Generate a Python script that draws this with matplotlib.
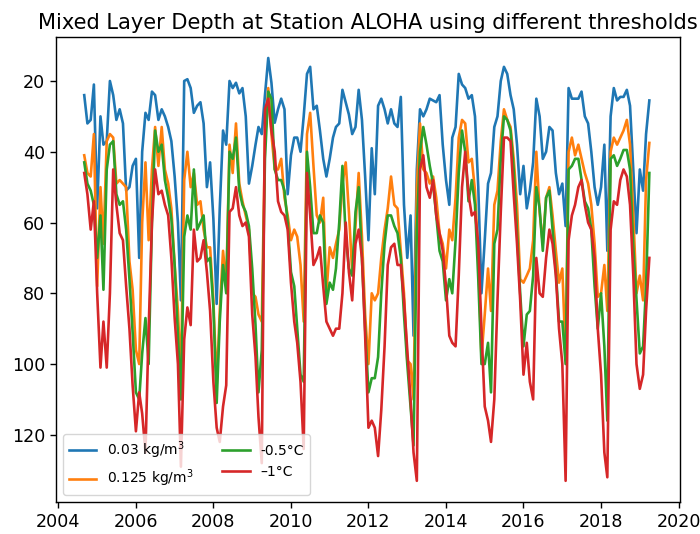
import matplotlib.pyplot as plt
import pandas as pd

# Monthly HOT cruise values, Sept 2004 - Apr 2019 (mixed layer depth, m)
dates = pd.date_range("2004-09-01", periods=176, freq="MS")

mld_dens_003 = [
    24, 32, 31, 21,
    56, 30, 38, 37, 20, 24, 31, 28, 32, 51, 50, 44,
    42, 70, 40, 29, 31, 23, 24, 31, 28, 30, 33, 37,
    47, 60, 82, 20, 19.5, 22, 29, 27, 26, 32, 50, 43,
    59, 83, 56, 34, 38, 20, 22, 20.5, 23.5, 22, 30, 49,
    44, 38, 33, 35, 24, 13.5, 20.5, 31.8, 28, 25, 28, 52,
    41, 36, 36, 40, 30, 18, 16, 28, 27, 34, 42, 47,
    42, 36, 33, 32, 22.5, 26, 29.5, 35, 33, 22.5, 31, 47,
    65, 39, 52, 27, 25, 28, 32, 28, 32, 33, 24.5, 55,
    70, 58, 92, 45, 28, 30, 28, 25, 25.5, 26, 24, 38,
    48, 55, 36, 33, 18, 21, 22, 25, 24, 30, 50, 80,
    65, 49, 46, 33, 30, 20, 16, 18, 24, 28, 38, 52,
    44, 56, 51, 43, 25, 30, 42, 40, 33, 34, 46, 52,
    49, 61, 22, 25, 25, 25, 23, 30, 32, 40, 50, 55,
    50, 38, 68, 30, 22, 25.5, 24.5, 24.5, 22.5, 27, 45, 63,
    45, 51, 35, 25.5,
]

mld_dens_0125 = [
    41, 46, 47, 35,
    78, 50, 66, 37, 35, 36, 49, 48, 49, 50, 71, 79,
    96, 100, 60, 43, 65, 45, 33, 44, 33, 45, 49, 56,
    72, 85, 104, 48, 40, 50, 46, 55, 54, 62, 67, 67,
    82, 106, 85, 68, 78, 38, 46, 32, 49, 54, 58, 62,
    80, 81, 86, 88, 37, 22, 35, 45, 45, 42, 53, 58,
    65, 62, 64, 72, 88, 35, 29, 44, 58, 60, 53, 80,
    67, 70, 66, 62, 49, 43, 57, 74, 61, 46, 64, 86,
    100, 80, 82, 80, 70, 62, 56, 47, 55, 56, 68, 80,
    99, 100, 110, 50, 32, 45, 46, 49, 47, 53, 63, 66,
    73, 62, 65, 53, 36, 31, 32, 43, 42, 51, 70, 98,
    86, 73, 85, 55, 51, 37, 28, 31, 33, 42, 55, 76,
    77, 75, 73, 65, 40, 57, 66, 53, 50, 58, 68, 77,
    73, 98, 40, 36, 41, 38, 42, 46, 49, 55, 66, 81,
    80, 72, 85, 40, 36, 38, 36, 34, 31, 38, 58, 80,
    75, 82, 48, 37.5,
]

mld_temp_05 = [
    43, 49, 51, 55,
    70, 58, 79, 45, 38, 37, 52, 55, 54, 62, 76, 91,
    108, 110, 97, 87, 100, 60, 34, 40, 38, 48, 53, 59,
    72, 92, 110, 64, 58, 62, 45, 62, 60, 58, 71, 70,
    84, 111, 88, 72, 80, 40, 42, 36, 51, 55, 57, 61,
    73, 89, 108, 96, 42, 23, 25, 45, 48, 48, 51, 60,
    74, 78, 90, 103, 105, 40, 50, 63, 63, 58, 60, 83,
    77, 79, 73, 60, 44, 64, 73, 75, 57, 50, 70, 90,
    108, 104, 104, 98, 80, 66, 58, 58, 61, 63, 70, 86,
    100, 112, 123, 62, 40, 33, 38, 44, 49, 58, 68, 71,
    82, 76, 80, 65, 46, 34, 40, 54, 48, 55, 76, 100,
    100, 94, 108, 66, 62, 42, 30, 31, 34, 45, 63, 80,
    95, 86, 85, 75, 50, 56, 68, 53, 51, 62, 74, 88,
    88, 100, 45, 44, 42, 42, 48, 54, 56, 62, 78, 90,
    80, 95, 116, 42, 41, 44, 42, 39.5, 39.5, 45, 67, 82,
    97, 95, 78, 46,
]

mld_temp_1 = [
    46, 52, 62, 54,
    80, 101, 88, 101, 80, 45, 55, 63, 65, 78, 90, 106,
    119, 108, 114, 125, 90, 60, 45, 52, 51, 55, 58, 70,
    87, 100, 129, 93, 84, 89, 62, 71, 70, 65, 74, 85,
    105, 118, 122, 112, 106, 57, 56, 50, 58, 61, 60, 64,
    86, 98, 115, 128, 28, 25, 34, 40, 54, 57, 58, 62,
    77, 88, 94, 105, 124, 46, 58, 72, 70, 67, 78, 88,
    90, 92, 90, 90, 80, 60, 74, 82, 66, 62, 70, 92,
    118, 116, 118, 126, 113, 95, 72, 67, 66, 72, 72, 82,
    96, 110, 125, 133, 45, 41, 50, 53, 48, 58, 63, 68,
    78, 92, 94, 95, 75, 50, 40, 52, 58, 57, 66, 90,
    112, 116, 122, 110, 82, 57, 36, 36, 37, 52, 66, 82,
    103, 94, 105, 110, 70, 80, 81, 70, 62, 66, 75, 90,
    100, 133, 65, 58, 55, 50, 48, 55, 60, 62, 70, 90,
    103, 125, 132, 62, 54, 55, 48, 45, 47, 55, 75, 100,
    107, 103, 85, 70,
]

labels = ["0.03 kg/m$^3$", "0.125 kg/m$^3$", "-0.5°C", "\u20131°C"]

# scale defaults up a bit (reference was saved at ~126 dpi)
s = 1.26
plt.rcParams["font.size"] = 10 * s
plt.rcParams["lines.linewidth"] = 1.5 * s
plt.rcParams["axes.linewidth"] = 0.8 * s
plt.rcParams["xtick.major.size"] = 3.5 * s
plt.rcParams["ytick.major.size"] = 3.5 * s
plt.rcParams["xtick.major.width"] = 0.8 * s
plt.rcParams["ytick.major.width"] = 0.8 * s

fig = plt.figure(figsize=(7, 5.34), dpi=100)
ax = fig.add_axes([0.08, 0.06, 0.891, 0.871])

for series, label in zip([mld_dens_003, mld_dens_0125, mld_temp_05, mld_temp_1], labels):
    ax.plot(dates, series, label=label)

ax.set_xlim(pd.Timestamp("2003-12-10"), pd.Timestamp("2020-01-12"))
ax.invert_yaxis()
ax.set_title("Mixed Layer Depth at Station ALOHA using different thresholds")
ax.legend(loc="lower left", ncol=2, fontsize=10)

fig.savefig("out.png", dpi=100)
